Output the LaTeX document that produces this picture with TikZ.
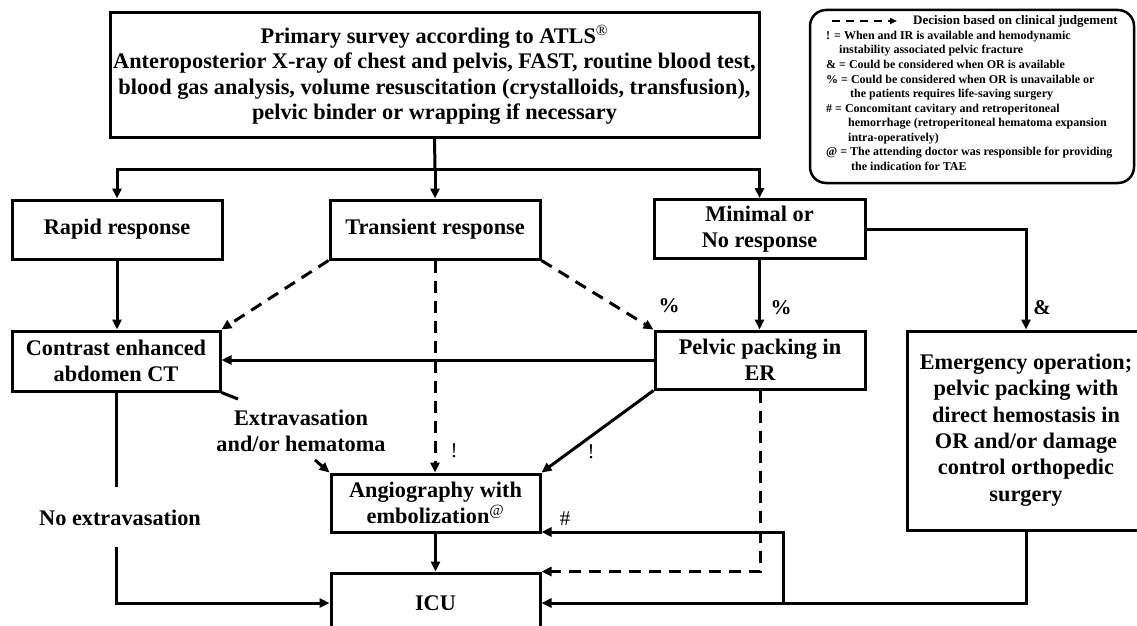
\documentclass[tikz,border=0pt]{standalone}
\usepackage{fontspec}
\setmainfont{Liberation Serif}
\usetikzlibrary{arrows.meta,calc}
\begin{document}
\begin{tikzpicture}[x=1pt,y=-1pt,
  box/.style={draw,line width=3pt,align=center,inner sep=0pt,font=\fontsize{22.3}{25.5}\selectfont\bfseries},
  conn/.style={line width=3pt},
  arr/.style={line width=3pt,-{Triangle[length=10pt,width=9pt]}},
  dsh/.style={dash pattern=on 12pt off 8pt},
  lab/.style={font=\fontsize{22.3}{26}\selectfont\bfseries,align=center,inner sep=0pt},
  sym/.style={font=\fontsize{21}{21}\selectfont\bfseries,inner sep=0pt},
  symr/.style={font=\fontsize{21}{21}\selectfont,inner sep=0pt},
  leg/.style={font=\fontsize{12}{14}\selectfont\bfseries,anchor=base west,inner sep=0pt},
]
\useasboundingbox (0,0) rectangle (1137,626);
\clip (0,0) rectangle (1137,626);

% boxes
\node[box,minimum width=649pt,minimum height=124pt] (top) at (434.5,75)
 {Primary survey according to ATLS\textsuperscript{\mdseries ®}\\
  Anteroposterior X-ray of chest and pelvis, FAST, routine blood test,\\
  blood gas analysis, volume resuscitation (crystalloids, transfusion),\\
  pelvic binder or wrapping if necessary};
\node[box,minimum width=210pt,minimum height=59pt] (rapid) at (117,229.5) {Rapid response};
\node[box,minimum width=210pt,minimum height=59pt] (trans) at (435,229.5) {Transient response};
\node[box,minimum width=211pt,minimum height=59pt] (minimal) at (759.5,229) {Minimal or\\No response};
\node[box,minimum width=208pt,minimum height=60pt] (ct) at (116,361) {Contrast enhanced\\abdomen CT};
\node[box,minimum width=210pt,minimum height=58pt] (pp) at (760,360) {Pelvic packing in\\ER};
\node[box,minimum width=238pt,minimum height=199pt,font=\fontsize{22.3}{26.4}\selectfont\bfseries,text depth=6pt] (emer) at (1026,430.5)
 {Emergency operation;\\pelvic packing with\\direct hemostasis in\\OR and/or damage\\control orthopedic\\surgery};
\node[box,minimum width=209pt,minimum height=58pt] (ang) at (435.5,503) {Angiography with\\embolization\textsuperscript{\mdseries @}};
\node[box,minimum width=209pt,minimum height=60pt] (icu) at (435.5,603) {ICU};

% top split
\coordinate (split) at (435,169);
\draw[conn] (top.south) -- (split);
\draw[arr] (split) -- (trans.north);
\draw[arr] (split) -| (rapid.north);
\draw[arr] (split) -| (minimal.north);

% first level
\draw[arr] (rapid.south) -- (rapid.south |- ct.north);
\draw[arr,dsh] (trans.south west) -- (ct.north east);
\draw[arr,dsh] (trans.south) -- (trans.south |- ang.north);
\draw[arr,dsh] (trans.south east) -- (pp.north west);
\draw[arr] (minimal.south) -- (minimal.south |- pp.north);
\draw[arr] (minimal.east) -| (emer.north);

% pelvic packing
\draw[arr] (pp.west) -- (pp.west -| ct.east);
\draw[arr] (pp.south west) -- (ang.north east);
\draw[arr,dsh] (pp.south) |- (icu.north east);

% emergency
\coordinate (br) at (783,603);
\draw[arr] (emer.south) |- (icu.east);
\draw[arr] (br) |- ($(ang.south east)+(0,-1.5)$);

% CT outputs
\node[lab] (noex) at (120,518) {No extravasation};
\coordinate (c1) at (116,487);
\coordinate (c2) at (116,547);
\draw[conn] (ct.south) -- (c1);
\draw[arr] (c2) |- (icu.west);
\node[lab] (extra) at (301,431) {Extravasation\\and/or hematoma};
\coordinate (e1) at (238,399);
\coordinate (e2) at (315,460);
\draw[conn] (ct.south east) -- (e1);
\draw[arr] (e2) -- (ang.north west);
\draw[arr] (ang.south) -- (icu.north);

% symbol labels
\node[sym] (p1) at (669,306) {\%};
\node[sym] (p2) at (781,308) {\%};
\node[sym] (amp) at (1042,308) {\&};
\node[symr] (ex1) at (454,451) {!};
\node[symr] (ex2) at (591,452) {!};
\node[symr] (hash) at (565,519) {\#};

% legend
\draw[line width=2.5pt,rounded corners=16pt] (810,10) rectangle (1134,183);
\coordinate (la) at (832,21);
\coordinate (lb) at (897,21);
\draw[line width=2pt,dash pattern=on 8pt off 6pt,-{Triangle[length=7pt,width=6pt]}] (la) -- (lb);
\node[leg,font=\fontsize{13}{14}\selectfont\bfseries] (l1) at (913,25) {Decision based on clinical judgement};
\node[leg] (l2) at (826,40) {! = When and IR is available and hemodynamic};
\node[leg] (l3) at (839,54) {instability associated pelvic fracture};
\node[leg] (l4) at (826,68.5) {\& = Could be considered when OR is available};
\node[leg] (l5) at (826,83) {\% = Could be considered when OR is unavailable or};
\node[leg] (l6) at (850,97.5) {the patients requires life-saving surgery};
\node[leg] (l7) at (826,112) {\# = Concomitant cavitary and retroperitoneal};
\node[leg] (l8) at (848,126.5) {hemorrhage (retroperitoneal hematoma expansion};
\node[leg] (l9) at (848,141) {intra-operatively)};
\node[leg] (l10) at (826,155.5) {@ = The attending doctor was responsible for providing};
\node[leg] (l11) at (851,170) {the indication for TAE};
\end{tikzpicture}
\end{document}
